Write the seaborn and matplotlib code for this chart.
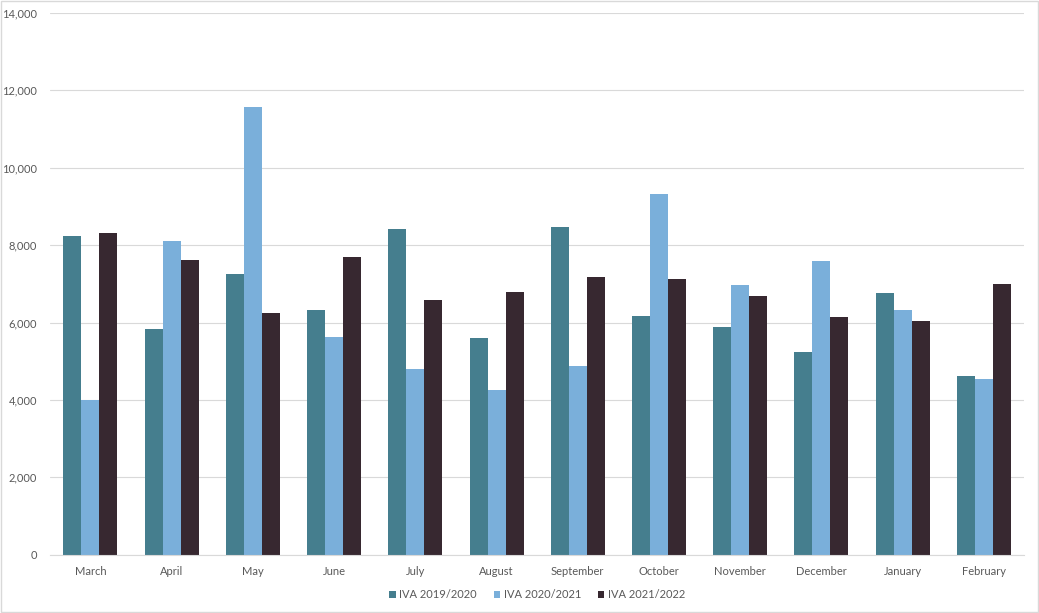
import pandas as pd
import matplotlib.pyplot as plt
import seaborn as sns
from matplotlib.ticker import FuncFormatter

# Monthly values
months = ["March", "April", "May", "June", "July", "August",
          "September", "October", "November", "December", "January", "February"]
iva_2019_2020 = [8230, 5820, 7250, 6315, 8410, 5590, 8460, 6160, 5875, 5230, 6755, 4630]
iva_2020_2021 = [4010, 8100, 11570, 5615, 4790, 4245, 4865, 9320, 6960, 7580, 6315, 4530]
iva_2021_2022 = [8310, 7610, 6240, 7690, 6575, 6780, 7170, 7120, 6680, 6135, 6030, 6990]
series_names = ["IVA 2019/2020", "IVA 2020/2021", "IVA 2021/2022"]
colors = ["#457E8E", "#7AAFDA", "#372830"]

df = pd.DataFrame({"month": months,
                   series_names[0]: iva_2019_2020,
                   series_names[1]: iva_2020_2021,
                   series_names[2]: iva_2021_2022})
long_df = df.melt(id_vars="month", var_name="series", value_name="value")

sns.set_style("white")
plt.rcParams["font.family"] = ["Lato", "DejaVu Sans"]

fig = plt.figure(figsize=(10.39, 6.13), dpi=100)
ax = fig.add_axes([0.048, 0.095, 0.938, 0.884])

sns.barplot(data=long_df, x="month", y="value", hue="series",
            palette=colors, width=0.665, ax=ax, saturation=1,
            linewidth=0, edgecolor="none")

ax.set_ylim(0, 14000)
ax.set_yticks(range(0, 14001, 2000))
ax.yaxis.set_major_formatter(FuncFormatter(lambda v, p: f"{int(v):,}"))
ax.grid(axis="y", color="#D9D9D9", linewidth=0.8)
ax.set_axisbelow(True)
ax.set_xlabel("")
ax.set_ylabel("")
for s in ["top", "right", "left"]:
    ax.spines[s].set_visible(False)
ax.spines["bottom"].set_color("#D9D9D9")
ax.tick_params(axis="both", length=0, labelsize=8, labelcolor="#595959")
ax.tick_params(axis="x", pad=8)
ax.tick_params(axis="y", pad=9)

leg = ax.legend(loc="upper center", bbox_to_anchor=(0.5, -0.045), ncol=3,
                frameon=False, fontsize=8, handlelength=0.6, handleheight=0.6,
                columnspacing=1.5, handletextpad=0.3)
for t in leg.get_texts():
    t.set_color("#595959")

# light border around the whole figure
fig.patches.append(plt.Rectangle((0.001, 0.001), 0.998, 0.998, transform=fig.transFigure,
                                 fill=False, edgecolor="#D9D9D9", linewidth=1))

fig.savefig("out.png", dpi=100)
